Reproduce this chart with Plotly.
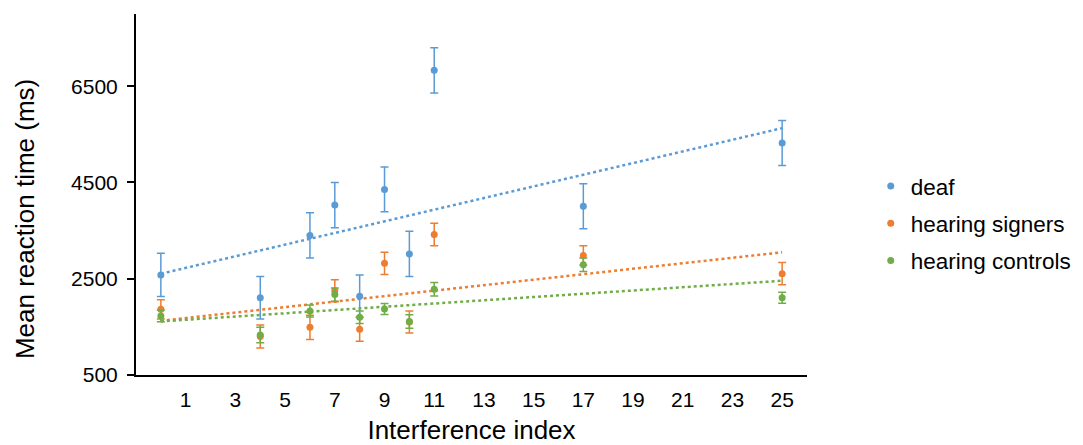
import numpy as np
import plotly.graph_objects as go

interference = [0, 4, 6, 7, 8, 9, 10, 11, 17, 25]

deaf_rt = [2580, 2105, 3400, 4030, 2135, 4355, 3015, 6830, 4005, 5320]
deaf_err = [450, 440, 470, 470, 440, 465, 470, 470, 467, 465]

signers_rt = [1865, 1300, 1490, 2250, 1450, 2820, 1600, 3420, 2985, 2605]
signers_err = [200, 240, 250, 230, 250, 230, 230, 235, 200, 230]

controls_rt = [1725, 1330, 1830, 2170, 1700, 1870, 1610, 2280, 2790, 2105]
controls_err = [120, 160, 125, 140, 130, 115, 140, 140, 140, 115]

series_names = ["deaf", "hearing signers", "hearing controls"]
colors = ["#5B9BD5", "#ED7D31", "#70AD47"]

x_tickvals = [1, 3, 5, 7, 9, 11, 13, 15, 17, 19, 21, 23, 25]
y_tickvals = [500, 2500, 4500, 6500]

FONT = "Liberation Sans, Arial, Helvetica, sans-serif"

fig = go.Figure()
all_series = [(deaf_rt, deaf_err), (signers_rt, signers_err), (controls_rt, controls_err)]

# trendlines first (behind points)
for (vals, _), c in zip(all_series, colors):
    slope, intercept = np.polyfit(interference, vals, 1)
    xs = [min(interference), max(interference)]
    ys = [intercept + slope * v for v in xs]
    fig.add_trace(go.Scatter(
        x=xs, y=ys, mode="lines",
        line=dict(color=c, width=2.5, dash="dot"),
        showlegend=False, hoverinfo="skip",
    ))

for (vals, errs), name, c in zip(all_series, series_names, colors):
    fig.add_trace(go.Scatter(
        x=interference, y=vals, mode="markers", name=name, legendgroup=name,
        marker=dict(color=c, size=7),
        error_y=dict(type="data", array=errs, visible=True,
                     color=c, thickness=1.5, width=4),
    ))

fig.update_layout(
    width=1075, height=437,
    margin=dict(l=128, r=276, t=6, b=70, autoexpand=False),
    paper_bgcolor="white", plot_bgcolor="white",
    font=dict(family=FONT, color="black", size=21),
    legend=dict(
        x=1.095, xanchor="left", y=0.42, yanchor="middle",
        font=dict(size=22.5, family=FONT, color="black"),
        itemsizing="trace", tracegroupgap=5,
        bgcolor="rgba(0,0,0,0)",
    ),
    xaxis=dict(
        range=[-1, 26], tickvals=x_tickvals, automargin=False,
        showgrid=False, zeroline=False,
        showline=True, linecolor="black", linewidth=2,
        ticks="", ticklabelstandoff=5,
        tickfont=dict(size=21, family=FONT, color="black"),
        title=dict(text="Interference index", font=dict(size=26, family=FONT, color="black"),
                   standoff=11),
    ),
    yaxis=dict(
        range=[500, 8000], tickvals=y_tickvals, automargin=False,
        showgrid=False, zeroline=False,
        showline=True, linecolor="black", linewidth=2,
        ticks="outside", ticklen=7, tickwidth=2, tickcolor="black",
        ticklabelstandoff=5,
        tickfont=dict(size=21, family=FONT, color="black"),
    ),
    annotations=[dict(
        text="Mean reaction time (ms)", textangle=-90,
        xref="paper", yref="paper", x=-0.1654, y=0.432,
        xanchor="center", yanchor="middle", showarrow=False,
        font=dict(size=26, family=FONT, color="black"),
    )],
)

fig.write_html("out.html")
